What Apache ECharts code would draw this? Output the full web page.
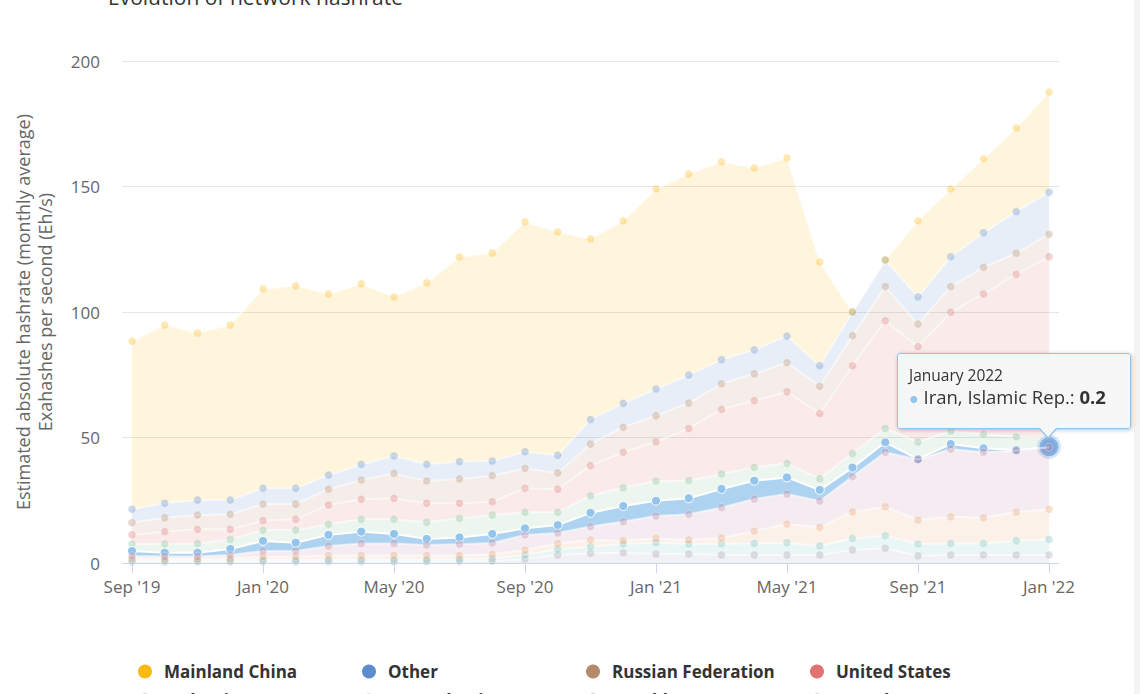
<!DOCTYPE html>
<html><head><meta charset="utf-8">
<script src="https://cdn.jsdelivr.net/npm/echarts@6/dist/echarts.min.js"></script>
<style>html,body{margin:0;padding:0;background:#fff;}#chart{width:1140px;height:694px;}</style>
</head><body><div id="chart"></div>
<script>
// ---- data ----
const monthKeys = ['2019-09','2019-10','2019-11','2019-12','2020-01','2020-02','2020-03','2020-04','2020-05','2020-06','2020-07','2020-08','2020-09','2020-10','2020-11','2020-12','2021-01','2021-02','2021-03','2021-04','2021-05','2021-06','2021-07','2021-08','2021-09','2021-10','2021-11','2021-12','2022-01'];
const months = ['September 2019','October 2019','November 2019','December 2019','January 2020','February 2020','March 2020','April 2020','May 2020','June 2020','July 2020','August 2020','September 2020','October 2020','November 2020','December 2020','January 2021','February 2021','March 2021','April 2021','May 2021','June 2021','July 2021','August 2021','September 2021','October 2021','November 2021','December 2021','January 2022'];
const tickKeys = ['2019-09','2020-01','2020-05','2020-09','2021-01','2021-05','2021-09','2022-01'];
const tickLabels = ["Sep '19","Jan '20","May '20","Sep '20","Jan '21","May '21","Sep '21","Jan '22"];

const china    = [67.0,71.0,66.5,69.7,79.4,80.6,72.2,71.9,63.4,72.3,81.5,82.9,91.6,89.0,71.9,72.7,79.7,80.1,78.8,72.5,71.0,41.3,0,0,30.3,27.0,29.4,33.3,39.9];
const other    = [5.3,5.8,6.0,5.7,6.3,6.3,5.6,6.2,6.9,6.6,6.9,5.8,6.6,7.0,9.8,9.5,10.6,11.2,9.6,9.5,10.6,8.2,9.4,10.6,10.8,11.9,13.8,16.6,16.7];
const russia   = [4.9,5.5,5.7,6.0,6.6,6.1,6.3,7.7,9.9,8.9,9.7,10.4,7.9,6.5,8.6,10.0,10.4,10.1,10.2,10.7,11.6,10.8,12.0,13.6,9.0,10.2,10.6,8.4,9.0];
const usa      = [3.6,4.9,5.6,4.0,3.8,4.3,7.7,8.0,8.4,7.6,6.0,5.3,9.6,9.2,12.0,14.1,15.6,20.7,25.7,26.6,28.5,26.0,35.0,42.9,38.0,47.3,55.9,64.7,72.2];
const malaysia = [2.8,3.5,3.7,3.8,4.3,5.0,4.2,4.9,5.8,6.6,7.6,7.5,6.4,5.1,6.8,7.3,7.9,7.1,6.0,5.3,5.6,4.5,5.6,5.5,6.8,5.2,5.6,5.3,3.5];
const iran     = [2.0,1.5,1.5,2.4,4.0,3.3,4.4,4.7,3.8,2.4,2.7,3.6,2.6,3.1,5.5,6.2,6.1,6.4,7.4,7.3,6.6,4.4,3.6,4.0,0.2,2.0,1.6,0.2,0.2];
const kazakh   = [1.0,1.0,1.0,1.4,2.3,2.3,3.8,4.8,4.8,4.2,4.5,4.5,6.0,4.2,5.3,7.6,8.9,10.2,12.1,12.8,12.0,10.5,14.0,21.7,24.1,27.0,26.1,24.5,24.7];
const canada   = [0.8,0.7,0.7,0.8,1.3,1.3,1.7,1.7,1.7,1.7,1.5,1.7,2.0,2.3,2.7,1.3,1.7,1.6,2.3,4.9,7.4,7.4,10.6,11.5,9.5,10.6,10.2,11.4,12.0];
const germany  = [0.5,0.4,0.4,0.5,0.6,0.6,0.7,0.7,0.7,0.7,0.8,1.0,1.7,2.3,2.6,3.5,4.5,4.0,4.5,4.6,4.9,3.6,4.6,5.0,4.7,4.6,4.6,5.7,6.2];
const ireland  = [0.5,0.5,0.5,0.5,0.6,0.6,0.6,0.6,0.6,0.6,0.7,0.8,1.5,3.2,3.9,4.1,3.6,3.6,3.2,3.2,3.2,3.2,5.2,5.9,2.9,3.2,3.2,3.2,3.2];

const seriesNames  = ['Mainland China','Other','Russian Federation','United States','Malaysia','Iran, Islamic Rep.','Kazakhstan','Canada','Germany','Ireland'];
const seriesValues = [china, other, russia, usa, malaysia, iran, kazakh, canada, germany, ireland];
const seriesColors = ['#FDB813','#5B8CCB','#B5896A','#E07272','#7DBF8E','#93C4EC','#B97F9E','#E9A06B','#74C2BC','#A29CB2'];
const activeName = 'Iran, Islamic Rep.';
const hoverIndex = 28;

// ---- chart ----
const chart = echarts.init(document.getElementById('chart'), null, {renderer: 'svg'});
const series = [];
for (let i = seriesNames.length - 1; i >= 0; i--) {
  const name = seriesNames[i];
  const active = name === activeName;
  const color = seriesColors[i];
  const data = seriesValues[i].map((v, k) => {
    if (active && k === hoverIndex) {
      return {value: v, symbolSize: 19,
        itemStyle: {color: '#7FA9DE', borderColor: 'rgba(147,196,236,0.4)', borderWidth: 5, opacity: 1}};
    }
    return v;
  });
  series.push({
    name: name, type: 'line', stack: 'total', data: data,
    xAxisIndex: 1, yAxisIndex: 1,
    color: color,
    z: active ? 3 : (i < 5 ? 2 : 4),
    symbol: 'circle', symbolSize: active ? 9 : 8, showSymbol: true,
    lineStyle: {color: '#ffffff', width: 2, opacity: active ? 1 : 0.55},
    areaStyle: {color: color, opacity: active ? 0.75 : 0.15},
    itemStyle: {color: color, borderColor: '#ffffff', borderWidth: 1, opacity: active ? 1 : 0.32},
    emphasis: {disabled: true},
    animation: false
  });
}

const option = {
  animation: false,
  textStyle: {fontFamily: 'Open Sans'},
  title: {text: 'Evolution of network hashrate', left: 108, top: -14, padding: 0,
    textStyle: {fontSize: 21, color: '#333333', fontWeight: 'normal', fontFamily: 'Open Sans'}},
  grid: [
    {left: 122, right: 81, top: 61, bottom: 131, containLabel: false},
    {left: 132, right: 91, top: 61, bottom: 131, containLabel: false}
  ],
  xAxis: [
    {gridIndex: 0, type: 'value', min: 0, max: 1,
      axisLine: {show: true, lineStyle: {color: '#ccd6eb', width: 1}},
      axisTick: {show: false}, axisLabel: {show: false}, splitLine: {show: false}},
    {gridIndex: 1, type: 'category', data: monthKeys, boundaryGap: false,
      axisLine: {show: false},
      axisTick: {show: true, length: 10, interval: 3, lineStyle: {color: '#ccd6eb'}},
      axisLabel: {interval: 3, color: '#666666', fontSize: 17, margin: 15,
        formatter: v => { const j = tickKeys.indexOf(v); return j >= 0 ? tickLabels[j] : ''; }},
      splitLine: {show: false}}
  ],
  yAxis: [
    {gridIndex: 0, type: 'value', min: 0, max: 200, interval: 50,
      name: 'Estimated absolute hashrate (monthly average)\nExahashes per second (Eh/s)',
      nameLocation: 'middle', nameRotate: 90, nameGap: 66,
      nameTextStyle: {color: '#666666', fontSize: 18, lineHeight: 22, align: 'center'},
      axisLine: {show: false}, axisTick: {show: false},
      axisLabel: {color: '#666666', fontSize: 17, margin: 22},
      splitLine: {lineStyle: {color: '#e6e6e6', width: 1}}},
    {gridIndex: 1, type: 'value', min: 0, max: 200, interval: 50, show: false,
      splitLine: {show: false}}
  ],
  legend: {
    data: seriesNames, left: 133, top: 657, width: 910, orient: 'horizontal',
    icon: 'circle', itemWidth: 14, itemHeight: 18, itemGap: 10, selectedMode: false,
    itemStyle: {opacity: 1, borderWidth: 0},
    textStyle: {color: '#333333', fontSize: 17, fontWeight: 'bold', width: 188, lineHeight: 19,
      padding: [0, 0, 0, 7], overflow: 'truncate', fontFamily: 'Open Sans'}
  },
  tooltip: {
    trigger: 'item', triggerOn: 'none', alwaysShowContent: true, transitionDuration: 0,
    position: [897, 353], padding: 0, borderWidth: 1.5, borderColor: '#93C4EC', borderRadius: 3,
    backgroundColor: 'rgba(247,247,247,0.95)',
    extraCssText: 'box-shadow: 1px 1px 4px rgba(0,0,0,0.25);',
    formatter: p => {
      const tipLeft = 150;
      const dotColor = seriesColors[seriesNames.indexOf(p.seriesName)];
      return '<div style="position:relative;width:209px;padding:10px 12px 19px 11px;font-family:Open Sans;">' +
        '<div style="font-size:15.5px;line-height:22px;color:#333;">' + months[p.dataIndex] + '</div>' +
        '<div style="font-size:18.5px;line-height:22px;color:#333;"><span style="color:' + dotColor + ';font-size:16px;">\u25CF</span> ' +
        p.seriesName + ': <b>' + p.value + '</b></div>' +
        '<div style="position:absolute;top:100%;left:' + (tipLeft - 10) + 'px;width:0;height:0;border-left:10px solid transparent;border-right:10px solid transparent;border-top:11px solid #93C4EC;"></div>' +
        '<div style="position:absolute;top:100%;left:' + (tipLeft - 8.5) + 'px;width:0;height:0;border-left:8.5px solid transparent;border-right:8.5px solid transparent;border-top:9px solid #f7f7f7;"></div>' +
        '</div>';
    }
  },
  graphic: [{type: 'rect', shape: {x: 1134, y: 0, width: 6, height: 694}, style: {fill: '#f3f3f3'}, silent: true}],
  series: series
};
chart.setOption(option);
const iranSeriesIndex = series.findIndex(s => s.name === activeName);
chart.dispatchAction({type: 'showTip', seriesIndex: iranSeriesIndex, dataIndex: hoverIndex});
</script></body></html>
